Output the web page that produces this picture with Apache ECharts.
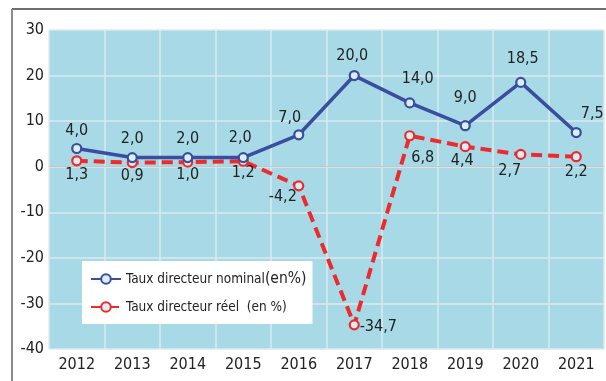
<!DOCTYPE html>
<html>
<head>
<meta charset="utf-8">
<script src="https://cdn.jsdelivr.net/npm/echarts@6/dist/echarts.min.js"></script>
<style>
  html, body { margin: 0; padding: 0; background: #ffffff; }
  #chart { width: 606px; height: 381px; }
</style>
</head>
<body>
<div id="chart"></div>
<script>
// Years on the horizontal axis
var years = ['2012', '2013', '2014', '2015', '2016', '2017', '2018', '2019', '2020', '2021'];
// Nominal policy rate (%)
var nominalRate = [4.0, 2.0, 2.0, 2.0, 7.0, 20.0, 14.0, 9.0, 18.5, 7.5];
// Real policy rate (%)
var realRate = [1.3, 0.9, 1.0, 1.2, -4.2, -34.7, 6.8, 4.4, 2.7, 2.2];
// Value-axis tick range
var yMin = -40, yMax = 30, yStep = 10;

// Label offsets around each point (centre of label relative to the marker)
var nominalLabelOffsets = [[0, -18], [0, -19], [0, -19], [-3, -20], [-9, -17], [-2, -20], [8, -24], [0, -28], [2, -24], [16, -19]];
var realLabelOffsets = [[0, 14], [0, 13], [0, 13], [0, 12], [-16, 11], [24, 2], [13, 22], [-3, 14], [-11, 16], [0, 15]];

var FONT = "'Liberation Sans Narrow', 'DejaVu Sans Condensed', 'Liberation Sans', sans-serif";
var BLUE = '#3a4d9f';
var RED = '#ee2b2c';

function fmt(v) { return v.toFixed(1).replace('.', ','); }

function buildData(values, offsets) {
  return values.map(function (v, i) {
    return {
      value: v,
      label: { offset: offsets[i] }
    };
  });
}

var chart = echarts.init(document.getElementById('chart'), null, { renderer: 'canvas' });

chart.setOption({
  animation: false,
  backgroundColor: '#ffffff',
  textStyle: { fontFamily: FONT },
  graphic: [
    { type: 'line', shape: { x1: 12, y1: 9, x2: 606, y2: 9 }, style: { stroke: '#6e6e6e', lineWidth: 2 }, z: 10 },
    { type: 'line', shape: { x1: 12, y1: 9, x2: 12, y2: 381 }, style: { stroke: '#8a8a8a', lineWidth: 2 }, z: 10 }
  ],
  grid: {
    left: 49, right: 2, top: 30, bottom: 32,
    show: true, backgroundColor: '#a7dae6', borderWidth: 0
  },
  legend: {
    orient: 'vertical',
    left: 82, top: 261,
    backgroundColor: '#ffffff',
    padding: [10, 6, 10, 8],
    itemWidth: 30, itemHeight: 12,
    itemGap: 13,
    textStyle: {
      fontFamily: FONT, fontSize: 13.5, color: '#222', lineHeight: 14,
      rich: { big: { fontFamily: FONT, fontSize: 15.5, color: '#222', lineHeight: 14 } }
    },
    formatter: function (name) {
      if (name.indexOf('nominal') >= 0) return 'Taux directeur nominal{big|(en%)}';
      return 'Taux directeur réel  (en %)';
    },
    data: ['Taux directeur nominal(en%)', 'Taux directeur réel  (en %)']
  },
  xAxis: {
    type: 'category',
    data: years,
    boundaryGap: true,
    axisLine: { show: false },
    axisTick: { show: false },
    axisLabel: { fontFamily: FONT, fontSize: 16, color: '#222', margin: 8 },
    splitLine: { show: true, lineStyle: { color: '#dde9ee', width: 1.5 } }
  },
  yAxis: {
    type: 'value',
    min: yMin, max: yMax, interval: yStep,
    axisLine: { show: false },
    axisTick: { show: false },
    axisLabel: { fontFamily: FONT, fontSize: 16, color: '#222', margin: 5 },
    splitLine: { show: true, lineStyle: { color: '#dde9ee', width: 1.5 } }
  },
  series: [
    {
      name: 'Taux directeur réel  (en %)',
      type: 'line',
      data: buildData(realRate, realLabelOffsets),
      symbol: 'circle', symbolSize: 9,
      itemStyle: { color: '#d9eff5', borderColor: RED, borderWidth: 2.2 },
      lineStyle: { color: RED, width: 4, type: [11, 6] },
      label: {
        show: true, position: 'inside',
        fontFamily: FONT, fontSize: 16, color: '#222',
        formatter: function (p) { return fmt(p.value); }
      },
      markLine: {
        silent: true, symbol: 'none', label: { show: false },
        lineStyle: { color: '#c9c4c6', width: 1.2, type: 'solid' },
        data: [{ yAxis: 0 }],
        z: 1
      },
      z: 3
    },
    {
      name: 'Taux directeur nominal(en%)',
      type: 'line',
      data: buildData(nominalRate, nominalLabelOffsets),
      symbol: 'circle', symbolSize: 9,
      itemStyle: { color: '#d9eff5', borderColor: BLUE, borderWidth: 2.2 },
      lineStyle: { color: BLUE, width: 3.5 },
      label: {
        show: true, position: 'inside',
        fontFamily: FONT, fontSize: 16, color: '#222',
        formatter: function (p) { return fmt(p.value); }
      },
      z: 4
    }
  ]
});
</script>
</body>
</html>
